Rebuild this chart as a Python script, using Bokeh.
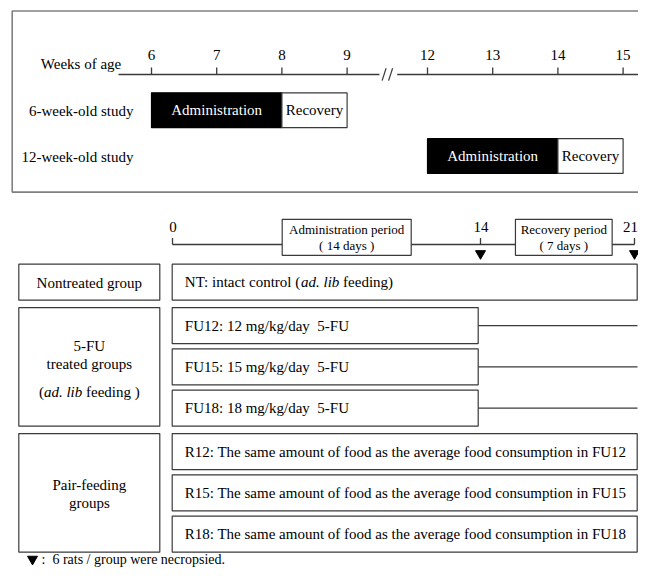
import numpy as np
from bokeh.plotting import figure
from bokeh.models import Range1d
from bokeh.core.properties import value
from bokeh.embed import file_html
from bokeh.resources import INLINE

# ---------------- data ----------------
week_ticks = [6, 7, 8, 9, 12, 13, 14, 15]
study_labels = ["6-week-old study", "12-week-old study"]
admin_start_week = [6, 12]
admin_end_week = [8, 14]
recovery_end_week = [9, 15]

day_ticks = [0, 14, 21]
necropsy_days = [14, 21]
period_titles = ["Administration period", "Recovery period"]
period_lengths = ["( 14 days )", "( 7 days )"]

group_lines = [["Nontreated group"],
               ["5-FU", "treated groups", "(ad. lib feeding )"],
               ["Pair-feeding", "groups"]]
row_group = [0, 1, 1, 1, 2, 2, 2]
row_box_end_day = [21, 14, 14, 14, 21, 21, 21]
row_texts = [
    "NT: intact control (ad. lib feeding)",
    "FU12: 12 mg/kg/day \u00a05-FU",
    "FU15: 15 mg/kg/day \u00a05-FU",
    "FU18: 18 mg/kg/day \u00a05-FU",
    "R12: The same amount of food as the average food consumption in FU12",
    "R15: The same amount of food as the average food consumption in FU15",
    "R18: The same amount of food as the average food consumption in FU18",
]
legend_text = ":\u00a0 6 rats / group were necropsied."

# ---------------- layout helpers ----------------
FONT = value("Liberation Serif")
EDGE = "#3a3a3a"


def wx(w):
    return 151.0 + (w - 6) * 65.2 if w <= 9 else 427.0 + (w - 12) * 65.2


def dx(d):
    return 172.0 + d * 22.0


p = figure(width=638, height=567, x_range=Range1d(0, 638), y_range=Range1d(577, 0),
           output_backend="svg", toolbar_location=None, min_border=0,
           x_axis_type=None, y_axis_type=None)
p.xgrid.visible = False
p.ygrid.visible = False
p.outline_line_color = None
p.background_fill_color = "white"
p.border_fill_color = "white"


def txt(xs, ys, texts, size="15px", align="left", color="black", style="normal"):
    p.text(x=xs, y=ys, text=texts, text_font=FONT, text_font_size=size,
           text_align=align, text_baseline="middle", text_color=color,
           text_font_style=style)


# ---------------- top panel ----------------
p.quad(left=[11.7], right=[700], top=[10.7], bottom=[195], fill_color=None,
       line_color="#808080", line_width=1.6)

axis_y = 75.3
p.segment(x0=[wx(6) - 33, wx(12) - 30.3], y0=[axis_y] * 2,
          x1=[wx(9) + 32.3, wx(15) + 18], y1=[axis_y] * 2,
          line_color=EDGE, line_width=1.3)
wt = [wx(w) for w in week_ticks]
p.segment(x0=wt, y0=[68.3] * len(wt), x1=wt, y1=[axis_y] * len(wt),
          line_color=EDGE, line_width=1.3)
txt(wt, [55] * len(wt), [str(w) for w in week_ticks], align="center")
txt([120.7], [65], ["Weeks of age"], align="right")
# axis break marks
bx = wx(9) + 35
p.segment(x0=[bx, bx + 6.5], y0=[81.5, 81.5], x1=[bx + 4, bx + 10.5], y1=[69, 69],
          line_color=EDGE, line_width=1.2)

study_y = [111.7, 158.3]
hh = 17.7
p.quad(left=[wx(w) for w in admin_start_week], right=[wx(w) for w in admin_end_week],
       top=[y - hh for y in study_y], bottom=[y + hh for y in study_y],
       fill_color="black", line_color="black", line_width=1.2)
p.quad(left=[wx(w) for w in admin_end_week], right=[wx(w) for w in recovery_end_week],
       top=[y - hh for y in study_y], bottom=[y + hh for y in study_y],
       fill_color="white", line_color=EDGE, line_width=1.2)
txt([(wx(a) + wx(b)) / 2 for a, b in zip(admin_start_week, admin_end_week)], study_y,
    ["Administration"] * 2, align="center", color="white")
txt([(wx(a) + wx(b)) / 2 for a, b in zip(admin_end_week, recovery_end_week)], study_y,
    ["Recovery"] * 2, align="center")
txt([133] * 2, [y + 1 for y in study_y], study_labels, align="right")

# ---------------- bottom panel: time line ----------------
base_y = 248.3
p.segment(x0=[dx(0)], y0=[base_y], x1=[dx(21)], y1=[base_y], line_color=EDGE, line_width=1.3)
dt = [dx(d) for d in day_ticks]
p.segment(x0=dt, y0=[241.7] * 3, x1=dt, y1=[base_y] * 3, line_color=EDGE, line_width=1.3)
txt([x + 0.5 for x, d in zip(dt, day_ticks) if d < 21], [230] * 2,
    [str(d) for d in day_ticks if d < 21], align="center")
txt([637.5], [230], [str(day_ticks[-1])], align="right")
p.scatter(x=[dx(d) for d in necropsy_days], y=[257.5] * 2, marker="inverted_triangle",
          size=10, fill_color="black", line_color="black")

pc = [346.2, 563.3]
pw = [129.0, 96.7]
p.quad(left=[c - w / 2 for c, w in zip(pc, pw)], right=[c + w / 2 for c, w in zip(pc, pw)],
       top=[222.7] * 2, bottom=[259.3] * 2, fill_color="white", line_color=EDGE, line_width=1.2)
txt(pc, [233.3] * 2, period_titles, size="13px", align="center")
txt(pc, [249.3] * 2, period_lengths, size="13px", align="center")

# ---------------- bottom panel: groups ----------------
row_h, gap_in, gap_grp = 36.7, 5.3, 7.5
tops = []
y = 268.3
for i, g in enumerate(row_group):
    if i > 0:
        y += row_h + (gap_grp if g != row_group[i - 1] else gap_in)
    tops.append(y)
bottoms = [t + row_h for t in tops]
centers = [t + row_h / 2 for t in tops]

p.quad(left=[dx(0) - 0.3] * len(tops), right=[dx(e) + (2.7 if e == 21 else -2.3) for e in row_box_end_day],
       top=tops, bottom=bottoms, fill_color="white", line_color=EDGE, line_width=1.2)
ln = [i for i, e in enumerate(row_box_end_day) if e < 21]
p.segment(x0=[dx(row_box_end_day[i]) - 2.3 for i in ln], y0=[centers[i] for i in ln],
          x1=[dx(21) + 3] * len(ln), y1=[centers[i] for i in ln], line_color=EDGE, line_width=1.2)

# group boxes
gtop, gbot = [], []
for g in range(len(group_lines)):
    idx = [i for i, r in enumerate(row_group) if r == g]
    gtop.append(tops[idx[0]])
    gbot.append(bottoms[idx[-1]])
p.quad(left=[18.3] * 3, right=[159.3] * 3, top=gtop, bottom=gbot,
       fill_color="white", line_color=EDGE, line_width=1.2)
gcx = (18.3 + 159.3) / 2
line_offsets = [[0.5], [-21, -2.7, 25.3], [-7.7, 10]]
for g, lines in enumerate(group_lines):
    gc = (gtop[g] + gbot[g]) / 2
    for t, off in zip(lines, line_offsets[g]):
        yy = gc + off
        if "ad. lib" in t:
            # "(" + italic "ad. lib" + " feeding )"
            x0 = gcx - 50.4
            txt([x0], [yy], ["("])
            txt([x0 + 5.0], [yy], ["ad. lib"], style="italic")
            txt([x0 + 47.1], [yy], ["feeding )"])
        else:
            txt([gcx], [yy], [t], align="center")

# row texts
tx = 184.3
for i, t in enumerate(row_texts):
    if "ad. lib" in t:
        a, rest = t.split("ad. lib")
        txt([tx], [centers[i]], [a])
        txt([tx + 116.2], [centers[i]], ["ad. lib"], style="italic")
        txt([tx + 158.3], [centers[i]], [rest.strip()])
    else:
        txt([tx], [centers[i]], [t])

# legend
p.scatter(x=[32], y=[568.5], marker="inverted_triangle", size=10,
          fill_color="black", line_color="black")
txt([41], [569], [legend_text], size="14px")

open("out.html", "w").write(file_html(p, INLINE))
